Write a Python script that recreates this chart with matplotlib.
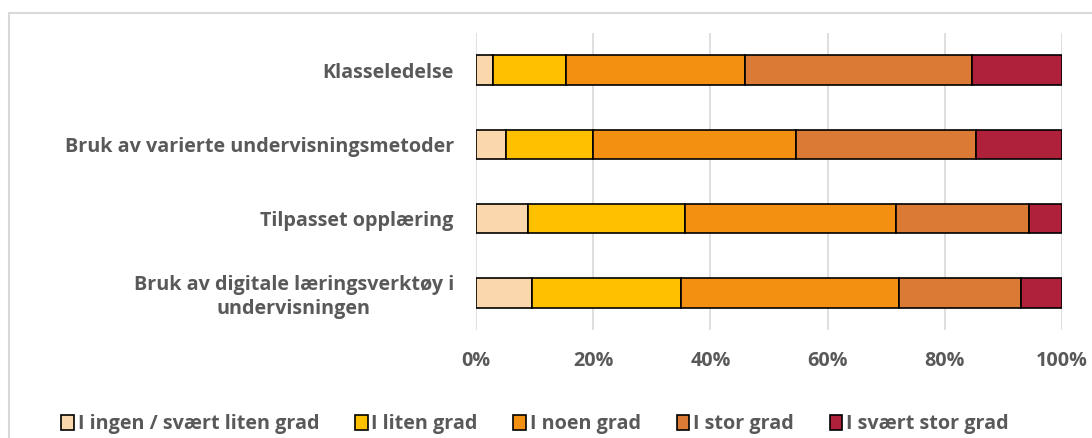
import matplotlib.pyplot as plt
from matplotlib.patches import Rectangle

# andel svar per område (prosent)
omrader = ["Klasseledelse",
           "Bruk av varierte undervisningsmetoder",
           "Tilpasset opplæring",
           "Bruk av digitale læringsverktøy i\nundervisningen"]
grader = ["I ingen / svært liten grad", "I liten grad", "I noen grad",
          "I stor grad", "I svært stor grad"]
ingen = [2.9, 5.2, 8.9, 9.6]
liten = [12.4, 14.8, 26.8, 25.4]
noen = [30.6, 34.6, 36.0, 37.1]
stor = [38.8, 30.8, 22.7, 20.9]
svaert_stor = [15.3, 14.6, 5.6, 7.0]

farger = ["#FAD7AC", "#FFC000", "#F39012", "#DB7A35", "#AF203A"]
tekstfarge = "#595959"
font = ["Open Sans", "DejaVu Sans"]
str_tekst = 14.2


def tegn_stolper(ax):
    serier = [ingen, liten, noen, stor, svaert_stor]
    ypos = list(range(len(omrader)))[::-1]
    venstre = [0.0] * len(omrader)
    for navn, verdier, farge in zip(grader, serier, farger):
        ax.barh(ypos, verdier, left=venstre, height=0.4, color=farge,
                edgecolor="black", linewidth=1.2, label=navn, zorder=3)
        venstre = [a + b for a, b in zip(venstre, verdier)]
    ax.set_yticks(ypos, labels=omrader)
    ax.set_ylim(-0.5, len(omrader) - 0.5)


def pynt_akser(ax):
    ax.set_xlim(0, 100)
    ax.set_xticks(range(0, 101, 20), labels=[f"{v}%" for v in range(0, 101, 20)])
    ax.grid(axis="x", color="#D9D9D9", linewidth=1.2, zorder=0)
    for side in ax.spines.values():
        side.set_visible(False)
    ax.tick_params(axis="both", length=0, colors=tekstfarge)
    ax.tick_params(axis="x", pad=15)
    ax.tick_params(axis="y", pad=16)
    for lbl in ax.get_xticklabels() + ax.get_yticklabels():
        lbl.set_fontfamily(font)
        lbl.set_fontweight("bold")
        lbl.set_fontsize(str_tekst)
    for lbl in ax.get_yticklabels():
        lbl.set_multialignment("center")
        lbl.set_linespacing(1.25)


def lag_figur(sti):
    fig = plt.figure(figsize=(10.92, 4.38), dpi=100)
    ax = fig.add_axes([476 / 1092, 1 - 330 / 438, 586 / 1092, 297 / 438])
    tegn_stolper(ax)
    pynt_akser(ax)

    # ramme rundt diagrammet
    fig.patches.append(Rectangle((9 / 1092, -0.1), 1.2, 1 - 13 / 438 + 0.1,
                                 transform=fig.transFigure, fill=False,
                                 edgecolor="#D9D9D9", linewidth=1.5))

    leg = fig.legend(loc="center", bbox_to_anchor=(535 / 1092, 1 - 424 / 438),
                     ncol=5, frameon=False, handlelength=0.65, handleheight=0.8,
                     handletextpad=0.2, columnspacing=1.8,
                     prop={"family": font, "weight": "bold", "size": str_tekst})
    for t in leg.get_texts():
        t.set_color(tekstfarge)
    fig.savefig(sti, dpi=100)


if __name__ == "__main__":
    lag_figur("out.png")
